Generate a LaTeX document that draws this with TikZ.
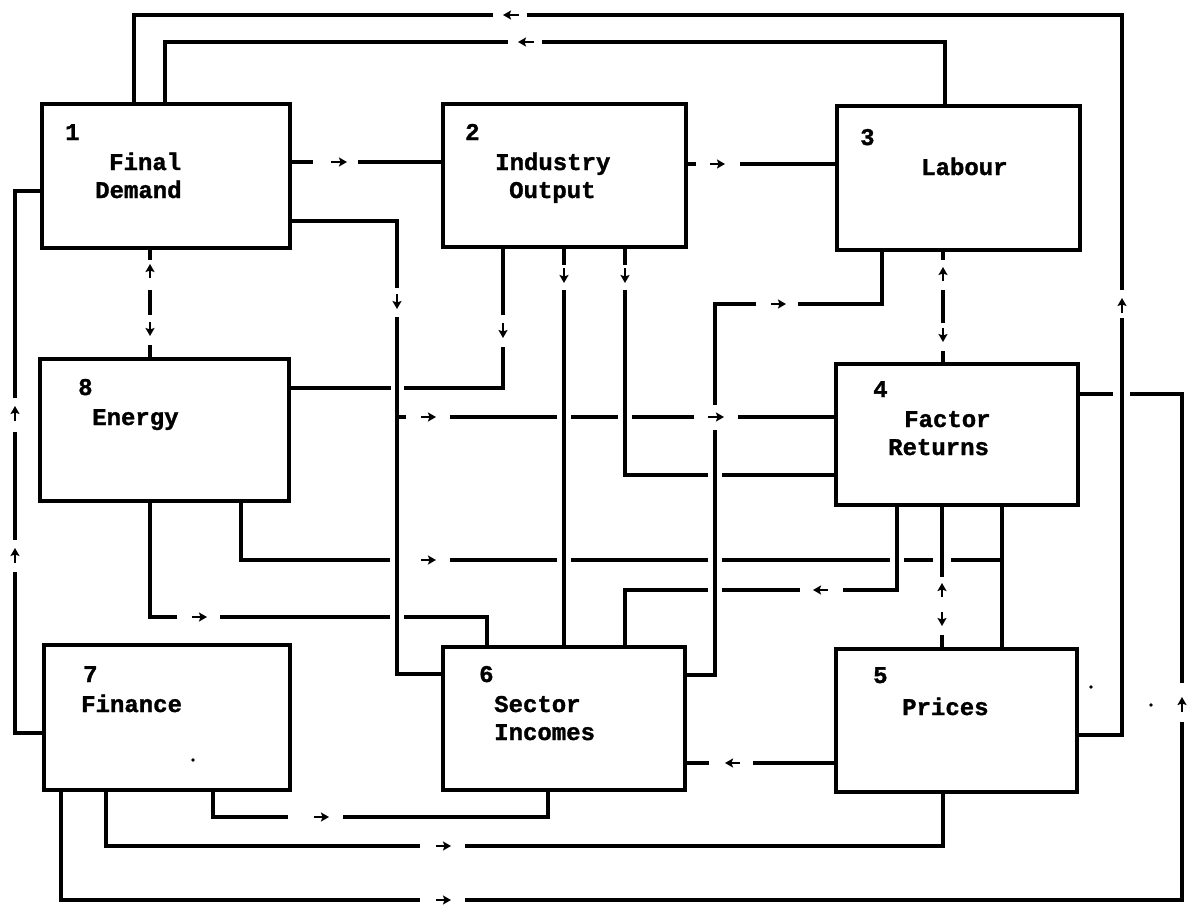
\documentclass[tikz,border=0pt]{standalone}
\usepackage{fontspec}
\newfontfamily\tw{Liberation Mono}[BoldFeatures={FakeBold=1.3}]
\usetikzlibrary{arrows.meta}
\begin{document}
\begin{tikzpicture}[x=1pt,y=-1pt,
  box/.style={draw, line width=4pt, inner sep=0pt, outer sep=0pt},
  ln/.style={line width=3.3pt, line join=miter},
  ar/.style={line width=2.6pt, -{Stealth[length=8pt,width=9pt,inset=1.5pt]}},
  lbl/.style={anchor=base west, inner sep=0pt, font=\tw\bfseries\fontsize{24}{24}\selectfont}]
\fill[white] (0,0) rectangle (1187,905);
\useasboundingbox (0,0) rectangle (1187,905);
% boxes
\node[box, minimum width=248pt, minimum height=144pt] (b1) at (166,176) {};
\node[box, minimum width=243pt, minimum height=143pt] (b2) at (564.5,175.5) {};
\node[box, minimum width=243pt, minimum height=144pt] (b3) at (958.5,178) {};
\node[box, minimum width=249pt, minimum height=142pt] (b8) at (164.5,430) {};
\node[box, minimum width=242pt, minimum height=141pt] (b4) at (957,434.5) {};
\node[box, minimum width=246pt, minimum height=145pt] (b7) at (167,717.5) {};
\node[box, minimum width=242pt, minimum height=143pt] (b6) at (564,718.5) {};
\node[box, minimum width=241pt, minimum height=143pt] (b5) at (956.5,720.5) {};
% labels
\node[lbl] (t1) at (65,140) {1};
\node[lbl] (t1a) at (109,170) {Final};
\node[lbl] (t1b) at (95,198) {Demand};
\node[lbl] (t2) at (465,140) {2};
\node[lbl] (t2a) at (495,170) {Industry};
\node[lbl] (t2b) at (509,198) {Output};
\node[lbl] (t3) at (860,145) {3};
\node[lbl] (t3a) at (921,175) {Labour};
\node[lbl] (t8) at (78,395) {8};
\node[lbl] (t8a) at (92,425) {Energy};
\node[lbl] (t4) at (873,397) {4};
\node[lbl] (t4a) at (904,427) {Factor};
\node[lbl] (t4b) at (888,455) {Returns};
\node[lbl] (t7) at (83,682) {7};
\node[lbl] (t7a) at (81,712) {Finance};
\node[lbl] (t6) at (479,682) {6};
\node[lbl] (t6a) at (494,712) {Sector};
\node[lbl] (t6b) at (494,740) {Incomes};
\node[lbl] (t5) at (873,683) {5};
\node[lbl] (t5a) at (902,715) {Prices};
% C1 outer top: Prices -> Final Demand
\draw[ln] (b5.east |- 0,735) -- (1122,735) -- (1122,318);
\draw[ar] (1122,313) -- (1122,298);
\draw[ln] (1122,290) -- (1122,15) -- (527,15);
\draw[ar] (519,15) -- (503,15);
\draw[ln] (493,15) -- (134,15) -- (134,0 |- b1.north);
% C2 inner top: Labour -> Final Demand
\draw[ln] (945,0 |- b3.north) -- (945,42) -- (542,42);
\draw[ar] (534,42) -- (518,42);
\draw[ln] (508,42) -- (165,42) -- (165,0 |- b1.north);
% C3 Final Demand -> Industry Output
\draw[ln] (b1.east |- 0,162) -- (313,162);
\draw[ar] (331,162) -- (347,162);
\draw[ln] (358,162) -- (b2.west |- 0,162);
% C4 Industry Output -> Labour
\draw[ln] (b2.east |- 0,164) -- (696,164);
\draw[ar] (710,164) -- (725,164);
\draw[ln] (740,164) -- (b3.west |- 0,164);
% C5 Finance -> Final Demand
\draw[ln] (b7.west |- 0,733) -- (15,733) -- (15,572);
\draw[ar] (15,563) -- (15,548);
\draw[ln] (15,540) -- (15,432);
\draw[ar] (15,421) -- (15,406);
\draw[ln] (15,398) -- (15,191) -- (b1.west |- 0,191);
% C6 Final Demand -> Sector Incomes
\draw[ln] (b1.east |- 0,221) -- (397,221) -- (397,288);
\draw[ar] (397,294) -- (397,309);
\draw[ln] (397,317) -- (397,674) -- (b6.west |- 0,674);
% branch to Factor Returns
\draw[ln] (397,417) -- (406,417);
\draw[ar] (421,417) -- (436,417);
\draw[ln] (450,417) -- (557,417);
\draw[ln] (571,417) -- (618,417);
\draw[ln] (632,417) -- (694,417);
\draw[ar] (708,417) -- (724,417);
\draw[ln] (738,417) -- (b4.west |- 0,417);
% C7 Sector Incomes -> Labour
\draw[ln] (b6.east |- 0,675) -- (715,675) -- (715,430);
\draw[ln] (715,405) -- (715,304) -- (756,304);
\draw[ar] (771,304) -- (786,304);
\draw[ln] (798,304) -- (882,304) -- (882,0 |- b3.south);
% C8 Industry Output -> Energy
\draw[ln] (503,0 |- b2.south) -- (503,315);
\draw[ar] (503,323) -- (503,338);
\draw[ln] (503,347) -- (503,388) -- (404,388);
\draw[ln] (391,388) -- (b8.east |- 0,388);
% C9 Industry Output -> Sector Incomes
\draw[ln] (564,0 |- b2.south) -- (564,265);
\draw[ar] (564,268) -- (564,283);
\draw[ln] (564,290) -- (564,0 |- b6.north);
% C10 Industry Output -> Factor Returns
\draw[ln] (625,0 |- b2.south) -- (625,265);
\draw[ar] (625,268) -- (625,283);
\draw[ln] (625,290) -- (625,475) -- (708,475);
\draw[ln] (722,475) -- (b4.west |- 0,475);
% C11 Final Demand <-> Energy
\draw[ln] (150,0 |- b1.south) -- (150,260);
\draw[ar] (150,278) -- (150,264);
\draw[ln] (150,290) -- (150,315);
\draw[ar] (150,322) -- (150,336);
\draw[ln] (150,345) -- (150,0 |- b8.north);
% C12 Labour <-> Factor Returns
\draw[ln] (943,0 |- b3.south) -- (943,260);
\draw[ar] (943,281) -- (943,267);
\draw[ln] (943,290) -- (943,323);
\draw[ar] (943,328) -- (943,342);
\draw[ln] (943,351) -- (943,0 |- b4.north);
% C13 Factor Returns <-> Prices
\draw[ln] (942,0 |- b4.south) -- (942,577);
\draw[ar] (942,597) -- (942,583);
\draw[ar] (942,612) -- (942,626);
\draw[ln] (942,635) -- (942,0 |- b5.north);
% C14 Energy -> Sector Incomes
\draw[ln] (150,0 |- b8.south) -- (150,617) -- (177,617);
\draw[ar] (192,617) -- (207,617);
\draw[ln] (220,617) -- (390,617);
\draw[ln] (404,617) -- (487,617) -- (487,0 |- b6.north);
% C15 Energy -> Factor Returns / Prices
\draw[ln] (241,0 |- b8.south) -- (241,560) -- (390,560);
\draw[ar] (421,560) -- (436,560);
\draw[ln] (450,560) -- (557,560);
\draw[ln] (571,560) -- (708,560);
\draw[ln] (722,560) -- (890,560);
\draw[ln] (904,560) -- (933,560);
\draw[ln] (951,560) -- (1002,560);
% C16 Factor Returns -- Prices
\draw[ln] (1002,0 |- b4.south) -- (1002,0 |- b5.north);
% C17 Factor Returns -> Sector Incomes
\draw[ln] (897,0 |- b4.south) -- (897,590) -- (843,590);
\draw[ar] (828,590) -- (813,590);
\draw[ln] (800,590) -- (722,590);
\draw[ln] (708,590) -- (625,590) -- (625,0 |- b6.north);
% C18 Prices -> Sector Incomes
\draw[ln] (b5.west |- 0,763) -- (753,763);
\draw[ar] (740,763) -- (725,763);
\draw[ln] (709,763) -- (b6.east |- 0,763);
% C19 Finance -> Sector Incomes
\draw[ln] (213,0 |- b7.south) -- (213,817) -- (288,817);
\draw[ar] (314,817) -- (329,817);
\draw[ln] (343,817) -- (548,817) -- (548,0 |- b6.south);
% C20 Finance -> Prices
\draw[ln] (106,0 |- b7.south) -- (106,846) -- (420,846);
\draw[ar] (436,846) -- (451,846);
\draw[ln] (465,846) -- (943,846) -- (943,0 |- b5.south);
% C21 Finance -> Factor Returns
\draw[ln] (61,0 |- b7.south) -- (61,900) -- (420,900);
\draw[ar] (436,900) -- (451,900);
\draw[ln] (465,900) -- (1182,900) -- (1182,722);
\draw[ar] (1182,712) -- (1182,697);
\draw[ln] (1182,683) -- (1182,394) -- (1130,394);
\draw[ln] (1113,394) -- (b4.east |- 0,394);
% stray dots
\fill (193,760) circle (1.8);
\fill (1091,687) circle (1.8);
\fill (1151,705) circle (1.8);
\end{tikzpicture}
\end{document}
